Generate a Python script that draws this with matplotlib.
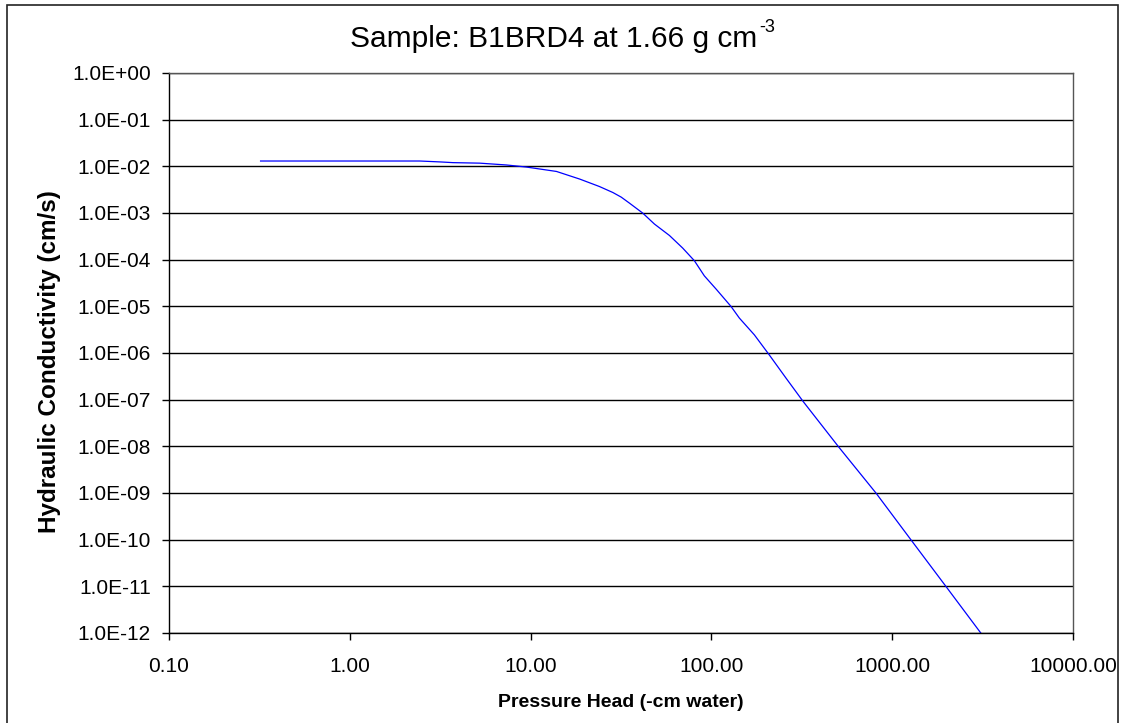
import matplotlib
matplotlib.use("Agg")
import matplotlib.pyplot as plt
from matplotlib.patches import Rectangle
from matplotlib.ticker import FixedLocator, FuncFormatter, NullLocator

# Pressure head (-cm water) and hydraulic conductivity (cm/s)
pressure_head = [0.321, 2.44, 3.2, 3.72, 5.23, 7.34, 9.47, 13.9, 18.7, 24.0,
                 28.5, 31.7, 35.2, 41.7, 48.4, 58.6, 69.4, 80.5, 91.4,
                 106.2, 128.5, 142.8, 172.8, 209.0, 258.6, 322.0, 509.0,
                 813.0, 1268.0, 1981.0, 3090.0]
conductivity = [0.0130, 0.0130, 0.0124, 0.0120, 0.0117, 0.0107, 0.00966,
                0.00777, 0.00533, 0.0037, 0.00275, 0.00219, 0.00163,
                9.96e-4, 5.8e-4, 3.30e-4, 1.77e-4, 9.5e-5, 4.5e-5,
                2.34e-5, 9.9e-6, 5.6e-6, 2.45e-6, 9.1e-7, 2.9e-7, 9.1e-8,
                9.4e-9, 1.0e-9, 1.0e-10, 1.0e-11, 1.0e-12]

x_ticks = [0.1, 1, 10, 100, 1000, 10000]
y_ticks = [10.0 ** -k for k in range(0, 13)]

plt.rcParams["font.family"] = ["Liberation Sans", "DejaVu Sans"]

W, H = 1124, 723
fig = plt.figure(figsize=(W / 100, H / 100), dpi=100)

# chart frame
fig.patches.append(Rectangle((7 / W, -0.01), (1118 - 7) / W, 1 - 5 / H + 0.01,
                             transform=fig.transFigure, fill=False,
                             edgecolor="#222222", linewidth=1.2))

left, right, top, bottom = 169, 1073, 73, 633
ax = fig.add_axes([left / W, 1 - bottom / H, (right - left) / W, (bottom - top) / H])

ax.plot(pressure_head, conductivity, color="#0000ff", linewidth=0.9)

ax.set_xscale("log")
ax.set_yscale("log")
ax.set_xlim(0.1, 10000)
ax.set_ylim(1e-12, 1)

ax.xaxis.set_major_locator(FixedLocator(x_ticks))
ax.yaxis.set_major_locator(FixedLocator(y_ticks))
ax.xaxis.set_minor_locator(NullLocator())
ax.yaxis.set_minor_locator(NullLocator())
ax.xaxis.set_major_formatter(FuncFormatter(lambda v, p: f"{v:.2f}"))
ax.yaxis.set_major_formatter(FuncFormatter(lambda v, p: f"{v:.1E}"))

ax.grid(True, axis="y", color="black", linewidth=1.0)
ax.set_axisbelow(True)
for s in ax.spines.values():
    s.set_color("black")
    s.set_linewidth(1.0)
ax.spines["top"].set_color("#555555")
ax.spines["right"].set_color("#555555")

ax.tick_params(axis="both", direction="out", length=5, width=1.0,
               colors="black", labelsize=15)
ax.tick_params(axis="x", pad=12)
ax.tick_params(axis="y", pad=8)

ax.set_xlabel("Pressure Head (-cm water)", fontsize=14, fontweight="bold", labelpad=13)
ax.set_ylabel("Hydraulic Conductivity (cm/s)", fontsize=17.5, fontweight="bold")
ax.yaxis.set_label_coords(-108 / (right - left), (bottom - 362) / (bottom - top))

title = fig.text(0.5 - 8 / W, 1 - 47 / H, "Sample: B1BRD4 at 1.66 g cm",
                 ha="center", va="baseline", fontsize=21.5)
ax.annotate("-3", xy=(1, 1), xycoords=title, xytext=(1.5, -2),
            textcoords="offset points", ha="left", va="center", fontsize=13)

fig.savefig("out.png", dpi=100, facecolor="white")
